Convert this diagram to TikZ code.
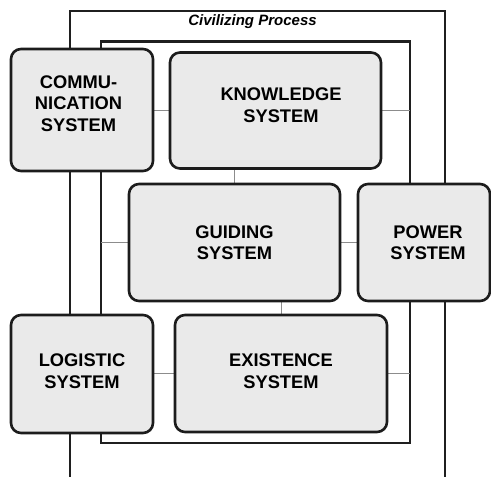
\documentclass[tikz,border=0pt]{standalone}
\usepackage{fontspec}
\setmainfont{Liberation Sans}
\usetikzlibrary{backgrounds}
\definecolor{boxfill}{HTML}{EAEAEA}
\definecolor{boxline}{HTML}{1C1C1C}
\definecolor{linkgray}{HTML}{8C8C8C}
\tikzset{
  sysbox/.style={draw=boxline, line width=2.6pt, fill=boxfill, rounded corners=10pt,
    minimum width=#1, inner sep=0pt},
  syslabel/.style={align=center, font=\fontsize{18.3}{21.5}\selectfont\bfseries, inner sep=0pt},
  frame/.style={draw=black!88, line width=2.6pt},
  link/.style={draw=linkgray, line width=1pt},
}
\begin{document}
\begin{tikzpicture}[x=1pt, y=-1pt]
\useasboundingbox (0,0) rectangle (491,477);

% subsystem boxes
\node[sysbox=142pt, minimum height=122pt] (comm) at (82,110) {};
\node[sysbox=211pt, minimum height=116pt] (know) at (275.5,110.5) {};
\node[sysbox=211pt, minimum height=117pt] (guide) at (234.5,242.5) {};
\node[sysbox=132pt, minimum height=117pt] (power) at (424,242.5) {};
\node[sysbox=142pt, minimum height=118pt] (logi) at (82,374) {};
\node[sysbox=212pt, minimum height=117pt] (exist) at (281,373.5) {};

% box captions
\node[syslabel] (commtxt) at (78.5,103.5) {COMMU-\\NICATION\\SYSTEM};
\node[syslabel] (knowtxt) at (281,105) {KNOWLEDGE\\SYSTEM};
\node[syslabel] (guidetxt) at (234.5,242.5) {GUIDING\\SYSTEM};
\node[syslabel] (powertxt) at (428,242.5) {POWER\\SYSTEM};
\node[syslabel] (logitxt) at (82,371) {LOGISTIC\\SYSTEM};
\node[syslabel] (existtxt) at (281,371) {EXISTENCE\\SYSTEM};

% title of the outer frame
\node[font=\fontsize{15}{18}\selectfont\bfseries\itshape, inner sep=0pt] (title) at (252.5,22) {Civilizing Process};

% frame edges reached by the links
\coordinate (innerLeftG) at (101,242.5);
\coordinate (innerRightK) at (410,110.5);
\coordinate (innerRightE) at (410,373.5);

\begin{scope}[on background layer]
  % outer frame, open at the bottom
  \draw[frame] (70,490) -- (70,11) -- (445,11) -- (445,490);
  % inner frame
  \draw[frame] (101,41.5) rectangle (410,443);
  % links between the systems
  \draw[link] (comm.east |- know.west) -- (know.west);
  \draw[link] (know.east) -- (innerRightK);
  \draw[link] (guide.north) -- (guide.north |- know.south);
  \draw[link] (guide.west) -- (innerLeftG);
  \draw[link] (guide.east) -- (power.west);
  \draw[link] (exist.north) -- (exist.north |- guide.south);
  \draw[link] (logi.east |- exist.west) -- (exist.west);
  \draw[link] (exist.east) -- (innerRightE);
\end{scope}
\end{tikzpicture}
\end{document}
